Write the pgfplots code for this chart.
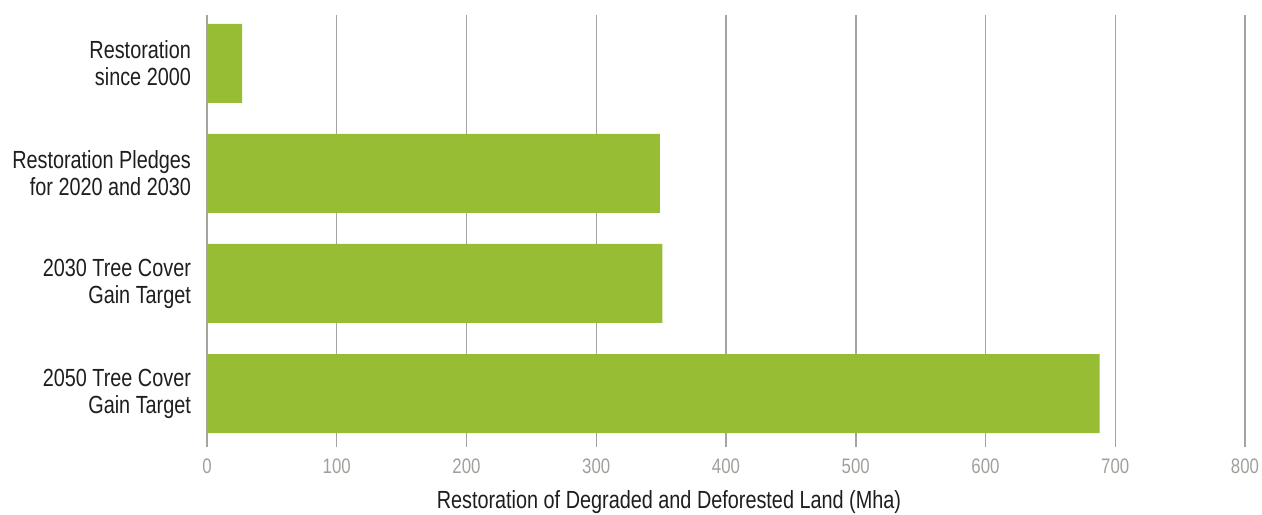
\documentclass[border=0pt]{standalone}
\usepackage{fontspec}
\setmainfont[FakeStretch=0.8]{Liberation Sans}
\usepackage{pgfplots}
\pgfplotsset{compat=1.18}
\definecolor{barGreen}{RGB}{151,189,53}
\definecolor{gridGray}{RGB}{165,165,160}
\definecolor{tickGray}{RGB}{160,160,155}
\definecolor{labelBlack}{RGB}{30,30,30}

\begin{document}
\begin{tikzpicture}
\begin{axis}[
    name=ax,
    scale only axis,
    width=519pt,
    height=216pt,
    xbar,
    bar width=39.5pt,
    xmin=0, xmax=800,
    ymin=-0.486, ymax=3.44,
    xtick={0,100,...,800},
    ytick={0,1,2,3},
    yticklabels={{2050 Tree Cover\\Gain Target},{2030 Tree Cover\\Gain Target},{Restoration Pledges\\for 2020 and 2030},{Restoration\\since 2000}},
    axis line style={draw=none},
    major tick length=0pt,
    xmajorgrids,
    grid style={gridGray, line width=0.75pt},
    /pgf/number format/assume math mode=true,
    xticklabel style={font=\fontsize{10.5}{12}\selectfont, text=tickGray, yshift=-2.5pt},
    yticklabel style={align=right, font=\fontsize{12.4}{13.5}\selectfont, text=labelBlack, xshift=-4.5pt},
    xlabel={Restoration of Degraded and Deforested Land (Mha)},
    xlabel style={at={(axis description cs:0.445,0)}, anchor=center, yshift=-27.5pt, font=\fontsize{12.4}{14}\selectfont, text=labelBlack},
]
    \addplot[fill=barGreen, draw=none] coordinates {
        (688,0) (351,1) (349,2) (27,3)
    };
\end{axis}
\pgfresetboundingbox
\path[use as bounding box] ([xshift=-103.5pt,yshift=-33.5pt]ax.south west) rectangle ([xshift=8.5pt,yshift=7.5pt]ax.north east);
\end{tikzpicture}
\end{document}
